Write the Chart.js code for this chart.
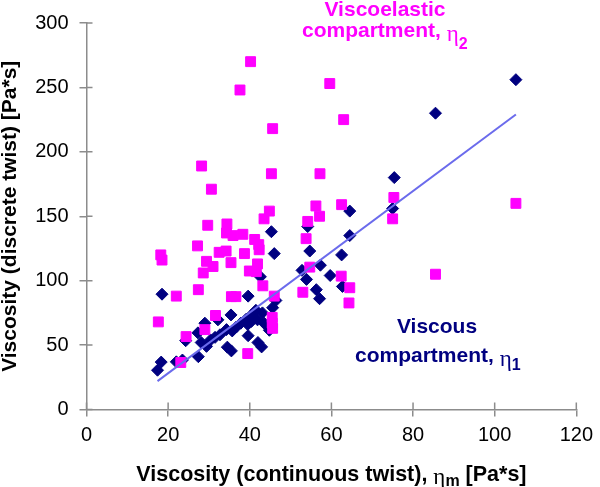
<!DOCTYPE html>
<html><head><meta charset="utf-8">
<script src="https://cdn.jsdelivr.net/npm/chart.js@4/dist/chart.umd.min.js"></script>
<style>html,body{margin:0;padding:0;background:#fff;overflow:hidden}</style>
</head><body>
<canvas id="c" width="600" height="487"></canvas>
<script>
// Viscoelastic compartment (eta2) - magenta squares
const viscoelasticX = [40.2, 37.6, 45.6, 28.2, 30.6, 45.3, 59.6, 63.0, 57.2, 44.8, 43.5, 29.7, 34.4, 34.3, 35.9, 38.3, 41.2, 42.2, 42.3, 27.2, 18.2, 18.5, 32.5, 34.2, 38.7, 29.4, 31.0, 35.4, 39.9, 41.9, 28.6, 41.6, 43.2, 22.0, 27.4, 35.5, 36.6, 46.0, 17.6, 31.6, 45.5, 45.5, 45.6, 29.0, 24.4, 23.1, 39.5, 56.2, 57.1, 62.5, 54.2, 53.8, 75.3, 75.0, 105.2, 85.5, 54.7, 53.0, 62.4, 64.5, 64.3];
const viscoelasticY = [270, 248, 218, 189, 171, 183, 253, 225, 183, 154, 148, 143, 144, 137, 135, 136, 132, 128, 124, 127, 120, 116, 122, 123, 121, 115, 111, 114, 107.5, 113, 106, 107, 96, 88, 93, 87.6, 87.6, 88, 68, 73, 71.5, 67, 63, 62, 56.6, 36.5, 43.4, 158, 150, 159, 146, 132.6, 164.6, 148, 160, 105, 110.5, 91, 103.5, 94.5, 82.7];
// Viscous compartment (eta1) - navy diamonds
const viscousX = [105.2, 85.5, 75.4, 75.0, 64.5, 64.5, 54.2, 45.3, 46.0, 54.7, 62.5, 57.3, 52.8, 59.7, 53.9, 62.7, 56.3, 57.1, 42.6, 39.6, 18.5, 46.4, 45.6, 41.5, 43.1, 40.3, 35.4, 39.1, 41.9, 37.8, 43.5, 44.4, 36.7, 34.3, 35.7, 44.8, 32.2, 29.0, 27.3, 32.7, 31.5, 30.4, 39.6, 24.3, 28.1, 29.4, 42.0, 42.9, 34.5, 35.5, 27.4, 23.5, 22.0, 18.3, 17.4, 40.4, 39.5];
const viscousY = [256, 230, 180, 156, 154, 135, 142, 138, 121, 123, 120, 112, 108, 104, 101, 95.5, 93, 86, 103, 88, 89.5, 84.6, 79, 77, 75, 73, 73.4, 70, 69.6, 67, 67, 64.6, 64, 62, 61, 61.5, 69.6, 67, 59.5, 58, 56, 54, 57.3, 53.4, 52, 49, 52, 48.6, 48.4, 45.5, 41, 38.4, 37, 36.8, 30.5, 68.4, 66];
// Trend line end points
const trendX = [17.4, 105.2];
const trendY = [22, 229];
// Axis ticks
const xTicks = [0, 20, 40, 60, 80, 100, 120];
const yTicks = [0, 50, 100, 150, 200, 250, 300];

const SANS = '"Liberation Sans", Arial, sans-serif';
const SERIF = '"Liberation Serif", "Times New Roman", serif';
const toPts = (xs, ys) => xs.map((x, i) => ({x: x, y: ys[i]}));

function drawRich(ctx, parts, x, baseline, align, color) {
  let w = 0;
  parts.forEach(p => { ctx.font = p.font; p.w = ctx.measureText(p.t).width; w += p.w; });
  let cx = align === 'center' ? x - w / 2 : x;
  ctx.fillStyle = color;
  ctx.textAlign = 'left';
  ctx.textBaseline = 'alphabetic';
  parts.forEach(p => { ctx.font = p.font; ctx.fillText(p.t, cx, baseline + (p.dy || 0)); cx += p.w; });
}

const extras = {
  id: 'extras',
  afterDraw(chart) {
    const ctx = chart.ctx;
    const xs = chart.scales.x, ys = chart.scales.y;
    const ca = chart.chartArea;
    ctx.save();
    // inner halves of the crossing tick marks
    ctx.strokeStyle = '#8c8c8c';
    ctx.lineWidth = 1.5;
    ctx.beginPath();
    xTicks.forEach(v => { const p = xs.getPixelForValue(v); ctx.moveTo(p, ca.bottom); ctx.lineTo(p, ca.bottom - 7); });
    yTicks.forEach(v => { const p = ys.getPixelForValue(v); ctx.moveTo(ca.left, p); ctx.lineTo(ca.left + 6, p); });
    ctx.stroke();
    // x-axis title
    drawRich(ctx, [
      {t: 'Viscosity (continuous twist), ', font: 'bold 21.5px ' + SANS},
      {t: 'η', font: '23px ' + SERIF, dy: 3},
      {t: 'm', font: 'bold 16px ' + SANS, dy: 5},
      {t: ' [Pa*s]', font: 'bold 21.5px ' + SANS}
    ], (ca.left + ca.right) / 2, 481, 'center', '#000');
    // series annotations
    drawRich(ctx, [{t: 'Viscoelastic', font: 'bold 21px ' + SANS}], 385, 16, 'center', '#ff00ff');
    drawRich(ctx, [
      {t: 'compartment, ', font: 'bold 21px ' + SANS},
      {t: 'η', font: '23px ' + SERIF, dy: 4},
      {t: '2', font: 'bold 16px ' + SANS, dy: 12}
    ], 302, 37, 'left', '#ff00ff');
    drawRich(ctx, [{t: 'Viscous', font: 'bold 21px ' + SANS}], 437, 333, 'center', '#000080');
    drawRich(ctx, [
      {t: 'compartment, ', font: 'bold 21px ' + SANS},
      {t: 'η', font: '23px ' + SERIF, dy: 4},
      {t: '1', font: 'bold 16px ' + SANS, dy: 8}
    ], 355, 362, 'left', '#000080');
    ctx.restore();
  }
};

new Chart(document.getElementById('c'), {
  type: 'scatter',
  data: {
    datasets: [
      {
        label: 'Trend',
        type: 'line',
        data: toPts(trendX, trendY),
        borderColor: '#6b6bec',
        borderWidth: 2,
        pointRadius: 0,
        fill: false,
        order: 0
      },
      {
        label: 'Viscoelastic compartment, η2',
        data: toPts(viscoelasticX, viscoelasticY),
        pointStyle: 'rect',
        pointRadius: 7,
        backgroundColor: '#ff00ff',
        borderColor: '#ff00ff',
        borderWidth: 1,
        order: 1
      },
      {
        label: 'Viscous compartment, η1',
        data: toPts(viscousX, viscousY),
        pointStyle: 'rectRot',
        pointRadius: 6,
        backgroundColor: '#000080',
        borderColor: '#000080',
        borderWidth: 1,
        order: 2
      }
    ]
  },
  options: {
    responsive: false,
    animation: false,
    devicePixelRatio: 1,
    layout: { padding: { top: 9, right: 17, bottom: 0, left: 0 } },
    plugins: { legend: { display: false }, tooltip: { enabled: false } },
    scales: {
      x: {
        type: 'linear',
        min: 0, max: 120,
        afterBuildTicks: s => { s.ticks = xTicks.map(v => ({value: v})); },
        afterFit: s => { s.height = 77.5; },
        ticks: { color: '#000', font: { family: SANS, size: 20 }, padding: 7 },
        grid: { drawOnChartArea: false, drawTicks: true, tickLength: 7, color: '#8c8c8c', lineWidth: 1.5 },
        border: { display: true, color: '#8c8c8c', width: 1.5 }
      },
      y: {
        type: 'linear',
        min: 0, max: 300,
        afterBuildTicks: s => { s.ticks = yTicks.map(v => ({value: v})); },
        afterFit: s => { s.width = 86.5; },
        ticks: { color: '#000', font: { family: SANS, size: 20 }, padding: 11 },
        grid: { drawOnChartArea: false, drawTicks: true, tickLength: 7, color: '#8c8c8c', lineWidth: 1.5 },
        border: { display: true, color: '#8c8c8c', width: 1.5 },
        title: { display: true, text: 'Viscosity (discrete twist) [Pa*s]', color: '#000', font: { family: SANS, size: 21, weight: 'bold', lineHeight: 1 }, padding: 0 }
      }
    }
  },
  plugins: [extras]
});
</script>
</body></html>
